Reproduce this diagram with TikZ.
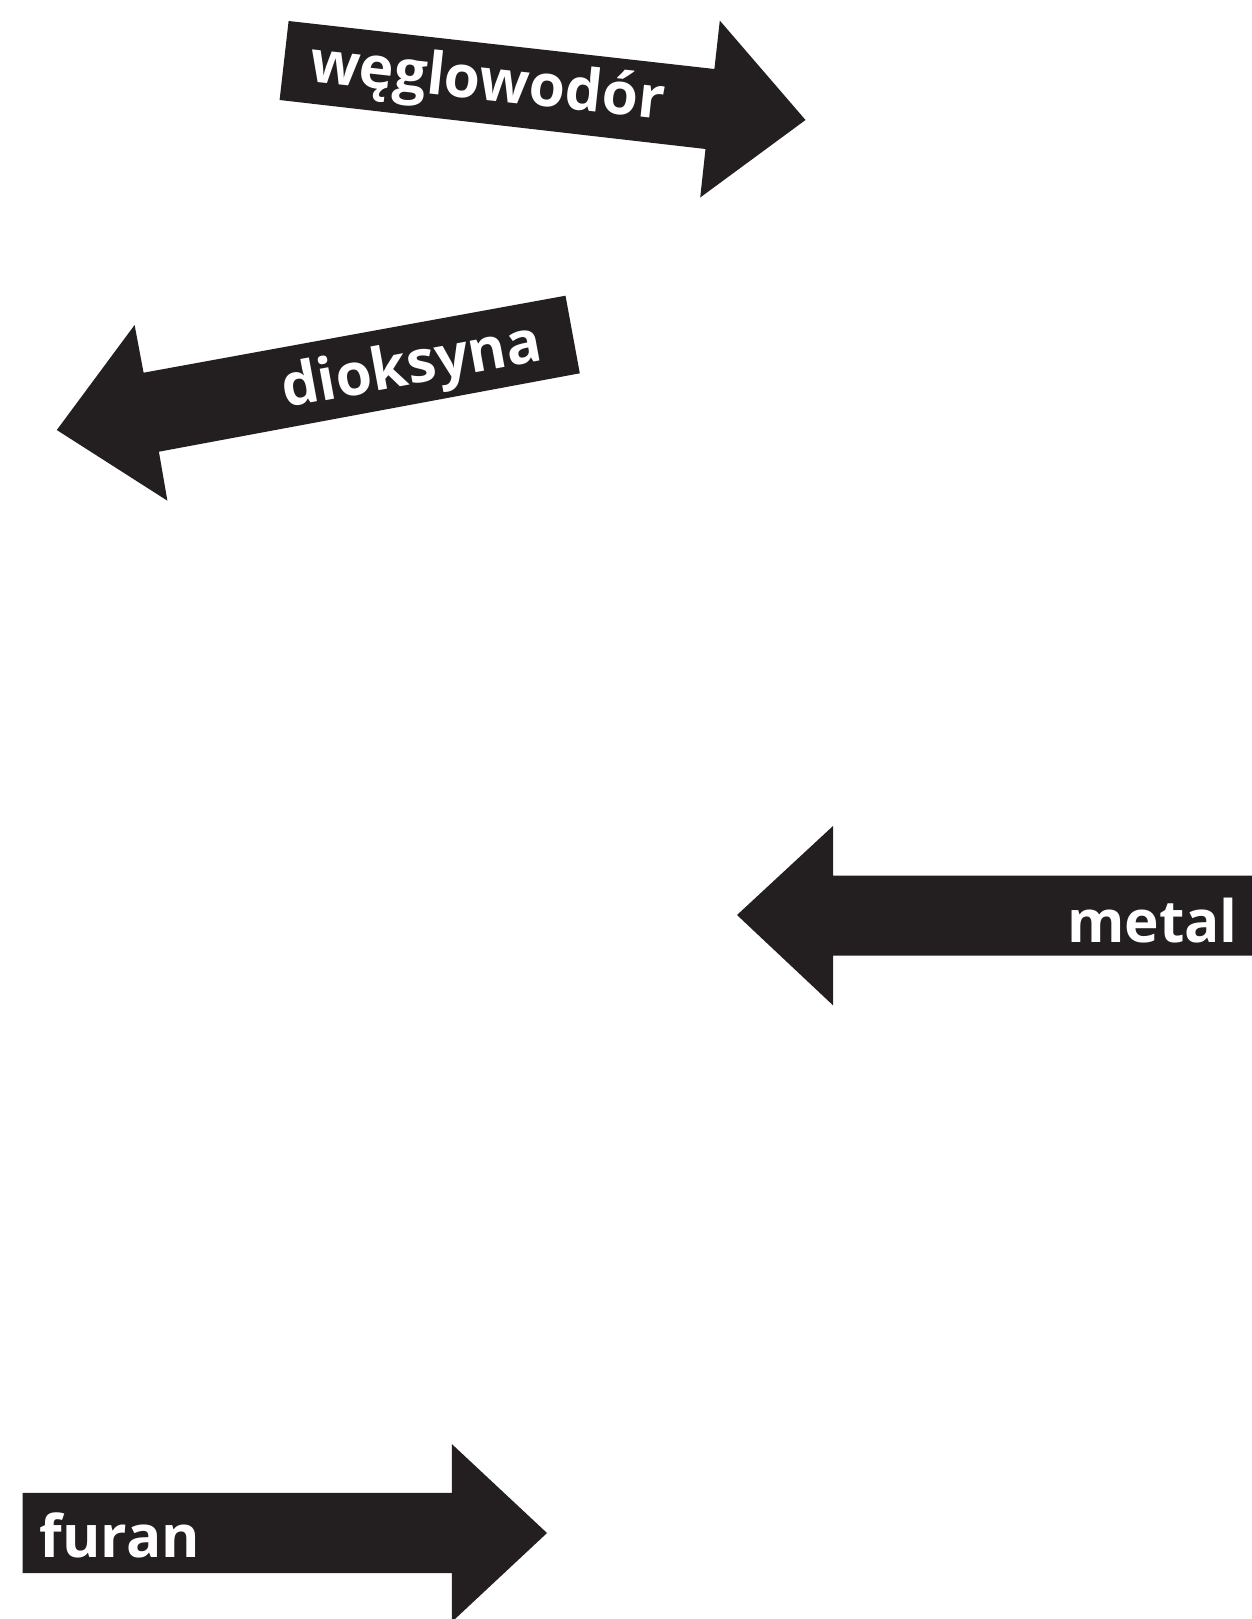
\documentclass[tikz,border=0pt]{standalone}
\usepackage{fontspec}
\newfontfamily\labelfont{Open Sans}
\definecolor{arrowink}{HTML}{231F20}
\tikzset{
  arrowbody/.style={fill=arrowink, draw=none},
  arrowlabel/.style={text=white, inner sep=0pt, anchor=base west,
    font=\labelfont\bfseries\fontsize{58.5}{58.5}\selectfont}
}
\begin{document}
\begin{tikzpicture}[x=1pt, y=-1pt]
  \useasboundingbox (0,0) rectangle (1252,1619);
  \clip (0,0) rectangle (1252,1619);

  % arrow pointing right, tilted down
  \fill[arrowbody] (288.6,21) -- (714.4,69) -- (719.8,20.6) -- (805.5,120)
    -- (700.2,197.5) -- (705.5,149) -- (279.6,100) -- cycle;
  \node[arrowlabel, rotate=-6.2] (weglo) at (308,81) {węglowodór};

  % arrow pointing left, tilted up
  \fill[arrowbody] (56.8,430) -- (134.6,325) -- (143.6,372.7) -- (565.5,295.7)
    -- (579.8,373.3) -- (158.9,451.7) -- (167.4,500.7) -- cycle;
  \node[arrowlabel, rotate=10.45] (diok) at (285,408) {dioksyna};

  % arrow pointing left, running off the right edge
  \fill[arrowbody] (737,915) -- (833,826) -- (833,875.5) -- (1260,875.5)
    -- (1260,955.7) -- (833,955.7) -- (833,1005.3) -- cycle;
  \node[arrowlabel] (metal) at (1067,942.7) {metal};

  % arrow pointing right, running off the bottom edge
  \fill[arrowbody] (22.5,1492.8) -- (451.8,1492.8) -- (451.8,1444) -- (547,1533)
    -- (451.8,1622) -- (451.8,1573.2) -- (22.5,1573.2) -- cycle;
  \node[arrowlabel] (furan) at (39.5,1557.3) {furan};
\end{tikzpicture}
\end{document}
